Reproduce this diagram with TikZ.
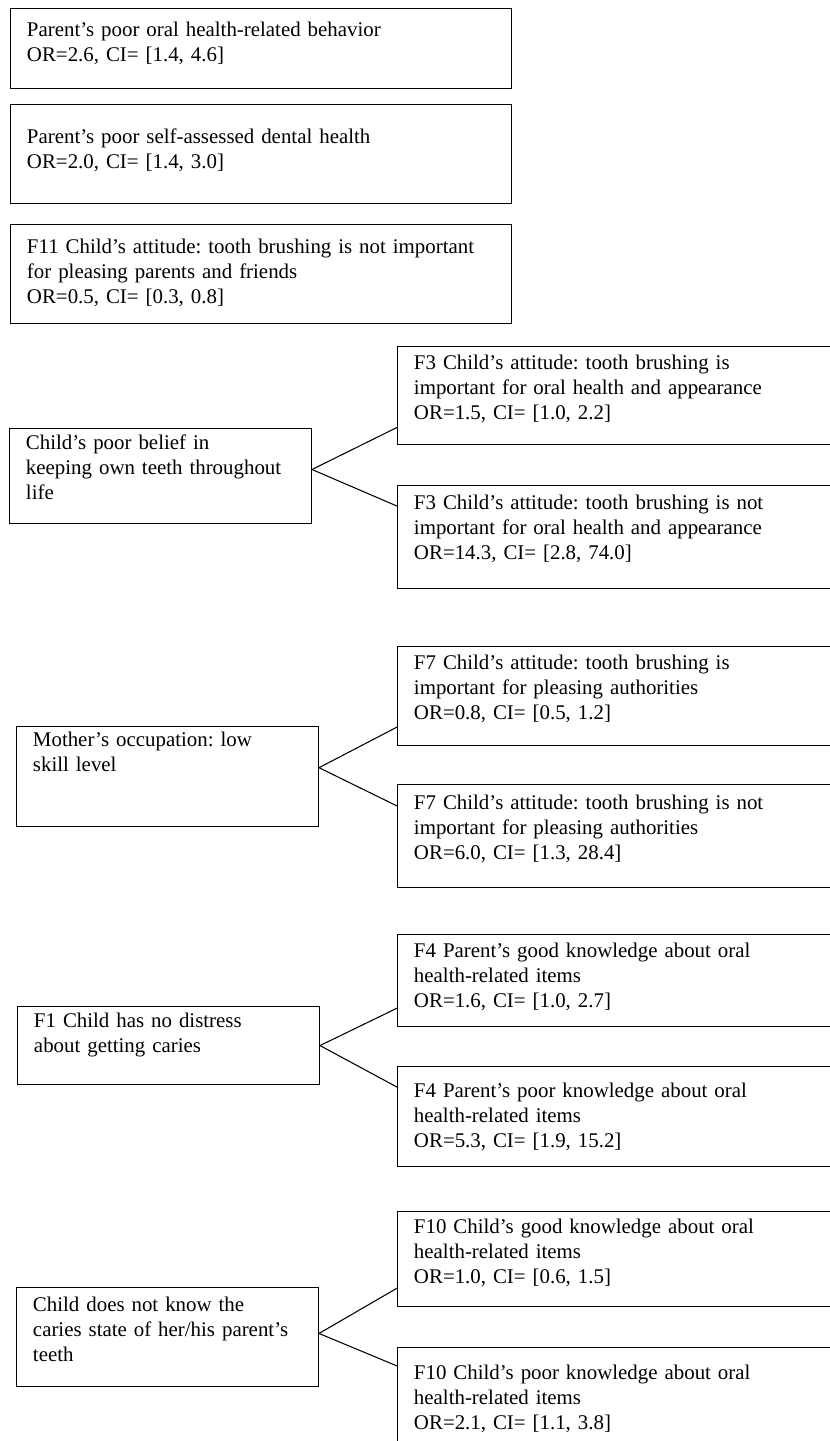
\documentclass[tikz,border=0pt]{standalone}
\usepackage{fontspec}
\setmainfont{Liberation Serif}
\usetikzlibrary{positioning}
\frenchspacing

\begin{document}
\begin{tikzpicture}[
    x=0.565pt, y=-0.565pt,
    box/.style={draw,line width=0.6pt,anchor=north west,align=left,inner xsep=9.3pt,inner ysep=0pt,font=\fontsize{11.8}{14.1}\selectfont},
    wide/.style={box,text width=264.5pt},
    side/.style={box,text width=152pt},
    sub/.style={box,text width=240pt},
    link/.style={line width=0.6pt}
]
    \useasboundingbox (0,0) rectangle (830,1441);
    \clip (0,0) rectangle (830,1441);

    % single factors
    \node[wide,text height=15.8pt,text depth=29.4pt] (behav) at (10,8) {Parent's poor oral health-related behavior\\OR=2.6, CI= [1.4, 4.6]};
    \node[wide,text height=22pt,text depth=33.9pt] (dental) at (10,104) {Parent's poor self-assessed dental health\\OR=2.0, CI= [1.4, 3.0]};
    \node[wide,text height=16.4pt,text depth=39.5pt] (fleven) at (10,224) {F11 Child's attitude: tooth brushing is not important\\for pleasing parents and friends\\OR=0.5, CI= [0.3, 0.8]};

    % interactions
    \node[side,text height=11.9pt,text depth=41.8pt] (belief) at (9,428) {Child's poor belief in\\keeping own teeth throughout\\life};
    \node[sub,text height=13pt,text depth=42.4pt] (fthreeA) at (397,346) {F3 Child's attitude: tooth brushing is\\important for oral health and appearance\\OR=1.5, CI= [1.0, 2.2]};
    \node[sub,text height=13.6pt,text depth=44.6pt] (fthreeB) at (397,485) {F3 Child's attitude: tooth brushing is not\\important for oral health and appearance\\OR=14.3, CI= [2.8, 74.0]};

    \node[side,text height=11.3pt,text depth=45.2pt] (mother) at (16,726) {Mother's occupation: low\\skill level};
    \node[sub,text height=13pt,text depth=42.9pt] (fsevenA) at (397,646) {F7 Child's attitude: tooth brushing is\\important for pleasing authorities\\OR=0.8, CI= [0.5, 1.2]};
    \node[sub,text height=14.1pt,text depth=44.1pt] (fsevenB) at (397,784) {F7 Child's attitude: tooth brushing is not\\important for pleasing authorities\\OR=6.0, CI= [1.3, 28.4]};

    \node[side,text height=11.9pt,text depth=32.2pt] (distress) at (17,1006) {F1 Child has no distress\\about getting caries};
    \node[sub,text height=13pt,text depth=39pt] (ffourA) at (397,934) {F4 Parent's good knowledge about oral\\health-related items\\OR=1.6, CI= [1.0, 2.7]};
    \node[sub,text height=17.5pt,text depth=39pt] (ffourB) at (397,1066) {F4 Parent's poor knowledge about oral\\health-related items\\OR=5.3, CI= [1.9, 15.2]};

    \node[side,text height=13.6pt,text depth=42.3pt] (cstate) at (16,1287) {Child does not know the\\caries state of her/his parent's\\teeth};
    \node[sub,text height=12.4pt,text depth=41.3pt] (ftenA) at (397,1211) {F10 Child's good knowledge about oral\\health-related items\\OR=1.0, CI= [0.6, 1.5]};
    \node[sub,text height=18.1pt,text depth=80pt] (ftenB) at (397,1347) {F10 Child's poor knowledge about oral\\health-related items\\OR=2.1, CI= [1.1, 3.8]};

    \draw[link] ([yshift=3.7pt]belief.east) -- ([yshift=10pt]fthreeA.south west);
    \draw[link] ([yshift=3.7pt]belief.east) -- ([yshift=-11.9pt]fthreeB.north west);
    \draw[link] ([yshift=5pt]mother.east) -- ([yshift=10.7pt]fsevenA.south west);
    \draw[link] ([yshift=5pt]mother.east) -- ([yshift=-12.4pt]fsevenB.north west);
    \draw[link] (distress.east) -- ([yshift=10.7pt]ffourA.south west);
    \draw[link] (distress.east) -- ([yshift=-11.9pt]ffourB.north west);
    \draw[link] ([yshift=2pt]cstate.east) -- ([yshift=10.7pt]ftenA.south west);
    \draw[link] ([yshift=2pt]cstate.east) -- ([yshift=-10.7pt]ftenB.north west);
\end{tikzpicture}
\end{document}
